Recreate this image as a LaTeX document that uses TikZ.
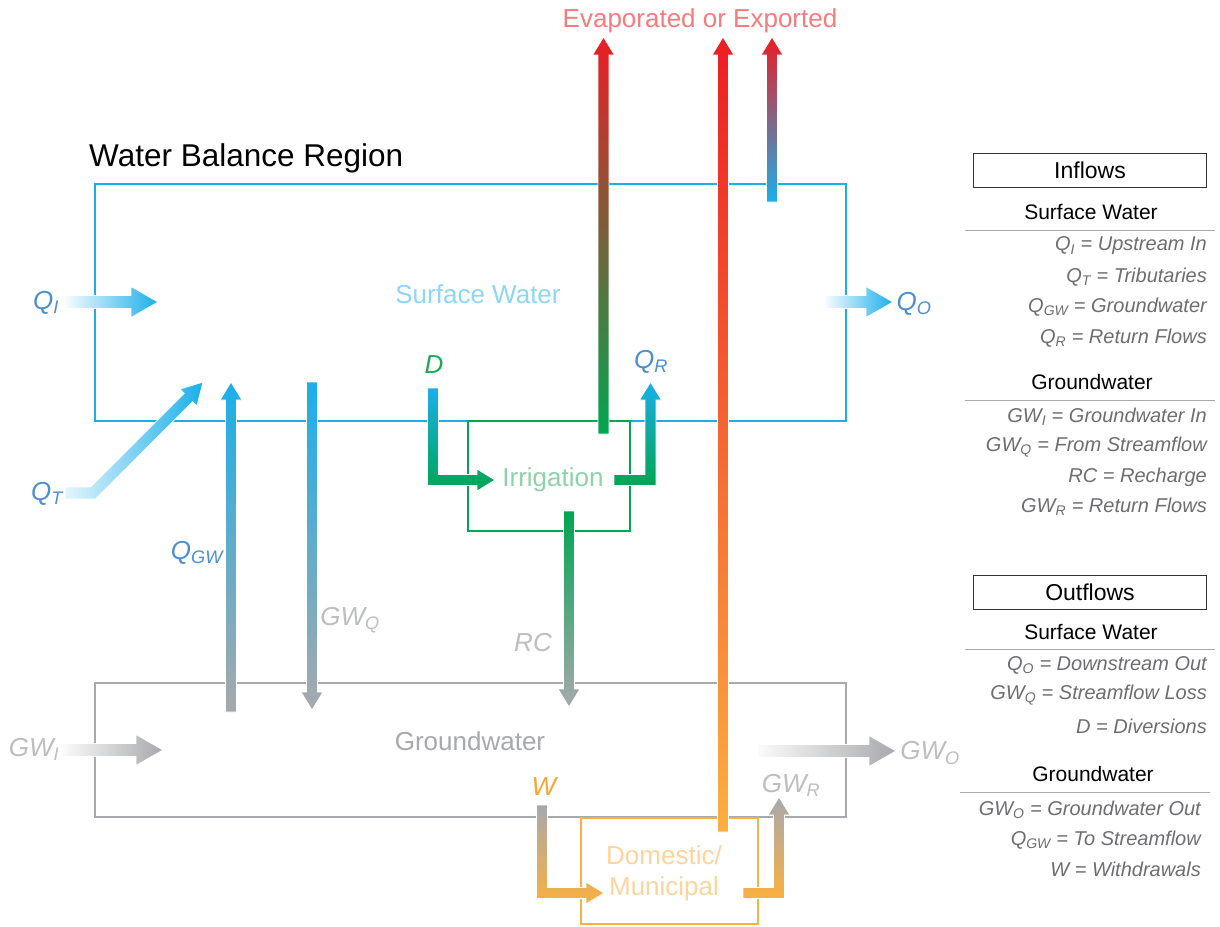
\documentclass[tikz,border=0pt]{standalone}
\usepackage{fontspec}
\setmainfont{Liberation Sans}
\definecolor{swc}{HTML}{1AAFEA}
\definecolor{gwc}{HTML}{A7A9AC}
\definecolor{irc}{HTML}{00A651}
\definecolor{dmc}{HTML}{FBB040}
\definecolor{redc}{HTML}{ED1C24}
\definecolor{qlab}{HTML}{4D8FCC}
\definecolor{gwlab}{HTML}{BCBEC0}
\definecolor{itemc}{HTML}{6D6E71}
\definecolor{swtxt}{HTML}{8ED6F6}
\definecolor{irtxt}{HTML}{8FD1A8}
\definecolor{dmtxt}{HTML}{FDD49E}
\definecolor{evtxt}{HTML}{F47C7E}
\definecolor{dlab}{HTML}{1EAA58}
\definecolor{wlab}{HTML}{F8A532}
\newcommand\sbs[1]{\textsubscript{#1}}
% vertical up arrow: x, y tail, y tip, bottom colour, top colour
\newcommand\arrUp[5]{\shadedraw[arr, bottom color=#4, top color=#5]
  (#1-5.5,#2) -- (#1-5.5,#3+18) -- (#1-11,#3+18) -- (#1,#3) -- (#1+11,#3+18) -- (#1+5.5,#3+18) -- (#1+5.5,#2) -- cycle;}
% vertical down arrow: x, y tail, y tip, top colour, bottom colour
\newcommand\arrDown[5]{\shadedraw[arr, top color=#4, bottom color=#5]
  (#1-5.5,#2) -- (#1-5.5,#3-18) -- (#1-11,#3-18) -- (#1,#3) -- (#1+11,#3-18) -- (#1+5.5,#3-18) -- (#1+5.5,#2) -- cycle;}
% big horizontal arrow: x tail, y, x tip, left colour, right colour
\newcommand\arrRight[5]{\shadedraw[arr, left color=#4, right color=#5]
  (#1,#2-6.5) -- (#3-27,#2-6.5) -- (#3-27,#2-15.5) -- (#3,#2) -- (#3-27,#2+15.5) -- (#3-27,#2+6.5) -- (#1,#2+6.5) -- cycle;}
\begin{document}
\begin{tikzpicture}[x=1pt,y=-1pt,
  arr/.style={draw=white, line width=0.8pt},
  lbl/.style={font=\fontsize{26}{30}\selectfont\itshape, inner sep=0pt},
  boxlbl/.style={font=\fontsize{26}{31}\selectfont, inner sep=0pt, align=center},
  hdr/.style={font=\fontsize{21}{25}\selectfont, inner sep=0pt},
  item/.style={font=\fontsize{20}{24}\selectfont\itshape, text=itemc, anchor=east, inner sep=0pt},
  legline/.style={draw=gwc, line width=1pt},
  legbox/.style={draw=black!80, line width=1pt, minimum width=233pt, minimum height=34pt, font=\fontsize{23}{27}\selectfont}]
\useasboundingbox (0,0) rectangle (1220,926);
\fill[white] (0,0) rectangle (1220,926);

% ---- boxes ----
\draw[swc, line width=2pt] (95,184) rectangle (846,421);
\draw[gwc, line width=2pt] (95,683) rectangle (846,817);
\draw[irc, line width=2pt] (468,421) rectangle (630,531);
\draw[dmc, line width=2pt] (581,818) rectangle (758,924);

% ---- box texts ----
\node[font=\fontsize{31.5}{36}\selectfont, anchor=west, inner sep=0pt] (title) at (89,158) {Water Balance Region};
\node[boxlbl, text=swtxt] (swt) at (478,294) {Surface Water};
\node[boxlbl, text=gwc] (gwt) at (470,741) {Groundwater};
\node[boxlbl, text=irtxt] (irt) at (553,480) {Irrigation};
\node[boxlbl, text=dmtxt, font=\fontsize{26}{31}\selectfont] (dmt) at (664,873) {Domestic/\\Municipal};
\node[boxlbl, text=evtxt] (evt) at (700,21) {Evaporated or Exported};

% ---- horizontal inflow / outflow arrows ----
\arrRight{66}{302}{158}{swc!5}{swc}
\arrRight{826}{302}{893}{swc!5}{swc}
\arrRight{62}{750}{163}{gwc!5}{gwc}
\arrRight{758}{751}{896}{gwc!5}{gwc}

% ---- tributary arrow ----
\shadedraw[arr, left color=swc!12, right color=swc]
  (65,487) -- (90.6,487) -- (184.2,393.4) -- (179.9,389.1) -- (203,382)
  -- (196.9,406.1) -- (192.6,401.8) -- (95.4,499) -- (65,499) -- cycle;

% ---- vertical exchange arrows ----
\arrUp{231}{712}{382}{gwc}{swc}
\arrDown{312}{382}{710}{swc}{gwc}
\arrDown{569}{511}{707}{irc}{gwc}

% ---- diversion D ----
\shadedraw[arr, top color=swc, bottom color=irc]
  (427.5,388) -- (438.5,388) -- (438.5,474.5) -- (477,474.5) -- (477,469) -- (495,480)
  -- (477,491) -- (477,485.5) -- (427.5,485.5) -- cycle;
% ---- return flow Q_R ----
\shadedraw[arr, top color=swc, bottom color=irc]
  (614,474.5) -- (645,474.5) -- (645,400) -- (639.5,400) -- (650.5,382) -- (661.5,400)
  -- (656,400) -- (656,485.5) -- (614,485.5) -- cycle;
% ---- withdrawal W ----
\shadedraw[arr, top color=gwc, bottom color=dmc]
  (536.5,805) -- (547.5,805) -- (547.5,887.5) -- (586,887.5) -- (586,882) -- (604,893)
  -- (586,904) -- (586,898.5) -- (536.5,898.5) -- cycle;
% ---- return GW_R ----
\shadedraw[arr, top color=gwc, bottom color=dmc]
  (743,887.5) -- (773.5,887.5) -- (773.5,815) -- (768,815) -- (779,797) -- (790,815)
  -- (784.5,815) -- (784.5,898.5) -- (743,898.5) -- cycle;

% ---- evaporated / exported ----
\arrUp{603.5}{434}{37}{irc}{redc}
\shadedraw[arr, bottom color=dmc, middle color=orange!60!red!90, top color=redc]
  (723-5.5,832) -- (723-5.5,55) -- (723-11,55) -- (723,37) -- (723+11,55) -- (723+5.5,55) -- (723+5.5,832) -- cycle;
\arrUp{772}{202}{37}{swc}{redc}

% ---- flow labels ----
\node[lbl, text=qlab] (qi) at (46,303) {Q\sbs{I}};
\node[lbl, text=qlab] (qt) at (47,494) {Q\sbs{T}};
\node[lbl, text=qlab] (qo) at (914,304) {Q\sbs{O}};
\node[lbl, text=qlab] (qgw) at (197,553) {Q\sbs{GW}};
\node[lbl, text=gwlab] (gwq) at (350,620) {GW\sbs{Q}};
\node[lbl, text=gwlab] (rc) at (533,643) {RC};
\node[lbl, text=dlab] (d) at (434,365) {D};
\node[lbl, text=qlab] (qr) at (651,362) {Q\sbs{R}};
\node[lbl, text=wlab] (w) at (544,787) {W};
\node[lbl, text=gwlab] (gwr) at (791,785) {GW\sbs{R}};
\node[lbl, text=gwlab] (gwi) at (34,749) {GW\sbs{I}};
\node[lbl, text=gwlab] (gwo) at (930,753) {GW\sbs{O}};

% ---- legend: inflows ----
\node[legbox] (inb) at (1090,170) {Inflows};
\node[hdr] (insw) at (1091,212) {Surface Water};
\draw[legline] (965,230) -- (1215,230);
\node[item] (i1) at (1207,246) {Q\sbs{I} = Upstream In};
\node[item] (i2) at (1207,277) {Q\sbs{T} = Tributaries};
\node[item] (i3) at (1207,307) {Q\sbs{GW} = Groundwater};
\node[item] (i4) at (1207,338) {Q\sbs{R} = Return Flows};
\node[hdr] (ingw) at (1092,382) {Groundwater};
\draw[legline] (965,400) -- (1215,400);
\node[item] (i5) at (1207,417) {GW\sbs{I} = Groundwater In};
\node[item] (i6) at (1207,447) {GW\sbs{Q} = From Streamflow};
\node[item] (i7) at (1207,477) {RC = Recharge};
\node[item] (i8) at (1207,507) {GW\sbs{R} = Return Flows};

% ---- legend: outflows ----
\node[legbox] (outb) at (1090,592) {Outflows};
\node[hdr] (outsw) at (1091,632) {Surface Water};
\draw[legline] (965,649) -- (1215,649);
\node[item] (o1) at (1207,665) {Q\sbs{O} = Downstream Out};
\node[item] (o2) at (1207,695) {GW\sbs{Q} = Streamflow Loss};
\node[item] (o3) at (1207,726) {D = Diversions};
\node[hdr] (outgw) at (1093,774) {Groundwater};
\draw[legline] (960,792) -- (1210,792);
\node[item] (o4) at (1201,810) {GW\sbs{O} = Groundwater Out};
\node[item] (o5) at (1201,840) {Q\sbs{GW} = To Streamflow};
\node[item] (o6) at (1201,869) {W = Withdrawals};
\end{tikzpicture}
\end{document}
